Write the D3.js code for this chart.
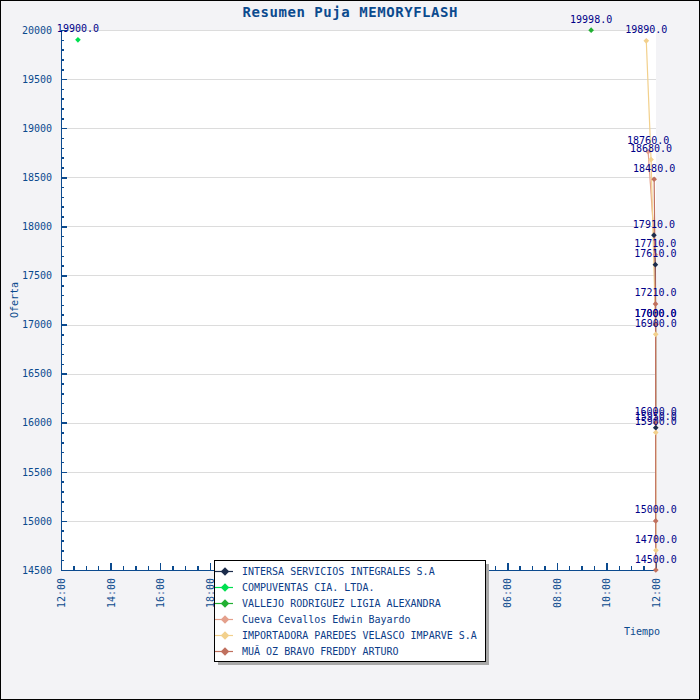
<!DOCTYPE html>
<html><head><meta charset="utf-8">
<script src="https://cdn.jsdelivr.net/npm/d3@7"></script>
<style>html,body{margin:0;padding:0;background:#fff}</style>
</head><body>
<svg id="c" width="700" height="700"></svg>
<script>
// ---- data ----
const seriesNames = [
  "INTERSA SERVICIOS INTEGRALES S.A",
  "COMPUVENTAS CIA. LTDA.",
  "VALLEJO RODRIGUEZ LIGIA ALEXANDRA",
  "Cueva Cevallos Edwin Bayardo",
  "IMPORTADORA PAREDES VELASCO IMPARVE S.A",
  "MUĂ OZ BRAVO FREDDY ARTURO"
];
const intersaTimes = ["2000-01-02T11:55:00","2000-01-02T11:58:30","2000-01-02T11:59:00","2000-01-02T11:59:20"];
const intersaValues = [17910, 17610, 17000, 15950];
const compuventasTimes = ["2000-01-01T12:41:00"];
const compuventasValues = [19900];
const vallejoTimes = ["2000-01-02T09:23:00"];
const vallejoValues = [19998];
const cuevaTimes = ["2000-01-02T11:41:00","2000-01-02T11:58:20"];
const cuevaValues = [18760, 17710];
const importadoraTimes = ["2000-01-02T11:36:30","2000-01-02T11:48:00","2000-01-02T11:59:20","2000-01-02T11:59:25","2000-01-02T11:59:50"];
const importadoraValues = [19890, 18680, 16900, 15900, 14700];
const munozTimes = ["2000-01-02T11:55:30","2000-01-02T11:58:50","2000-01-02T11:59:00","2000-01-02T11:59:10","2000-01-02T11:59:15","2000-01-02T11:59:35"];
const munozValues = [18480, 17210, 17000, 16000, 15000, 14500];
const xDomain = ["2000-01-01T12:00:00","2000-01-02T12:00:00"];
const yDomain = [14500, 20000];
const titleText = "Resumen Puja MEMORYFLASH";
const yLabel = "Oferta";
const xLabel = "Tiempo";

// ---- styles ----
const colors = ["#1c2c4c","#00e050","#22b033","#e4a08c","#f2d08c","#c0705e"];
const axisColor = "#0b4a8e";
const valColor = "#000088";
const FONT = "'DejaVu Sans Mono', 'Liberation Mono', monospace";

const allTimes = [intersaTimes, compuventasTimes, vallejoTimes, cuevaTimes, importadoraTimes, munozTimes];
const allValues = [intersaValues, compuventasValues, vallejoValues, cuevaValues, importadoraValues, munozValues];
const parse = d3.isoParse;
const series = seriesNames.map((n, i) => ({
  name: n, color: colors[i],
  pts: allTimes[i].map((t, j) => ({t: parse(t), v: allValues[i][j]}))
}));

const svg = d3.select("#c");
const W = 700, H = 700;
const L = 61, R = 656, T = 30, B = 570;

svg.append("rect").attr("x",0).attr("y",0).attr("width",W).attr("height",H).attr("fill","#f3f3f6");
svg.append("rect").attr("x",0.5).attr("y",0.5).attr("width",W-1).attr("height",H-1).attr("fill","none").attr("stroke","#000");
svg.append("rect").attr("x",L).attr("y",T).attr("width",R-L).attr("height",B-T).attr("fill","#fff");

const x = d3.scaleTime().domain(xDomain.map(parse)).range([L, R]);
const y = d3.scaleLinear().domain(yDomain).range([B, T]);

// gridlines
svg.append("g").selectAll("line").data(d3.range(15000, 20001, 500)).join("line")
  .attr("x1", L).attr("x2", R).attr("y1", d => Math.round(y(d))+0.5).attr("y2", d => Math.round(y(d))+0.5)
  .attr("stroke","#dcdcdc").attr("shape-rendering","crispEdges");

// y axis
const yMinor = d3.axisRight(y).tickValues(d3.range(14500, 20001, 100)).tickSize(3).tickFormat("");
const gyMinor = svg.append("g").attr("transform",`translate(${L},0)`).call(yMinor);
const yMajor = d3.axisLeft(y).tickValues(d3.range(14500, 20001, 500)).tickSize(0).tickPadding(9).tickFormat(d3.format("d"));
const gy = svg.append("g").attr("transform",`translate(${L},0)`).call(yMajor);
const gyMajTicks = svg.append("g").attr("transform",`translate(${L},0)`).call(d3.axisRight(y).tickValues(d3.range(14500,20001,500)).tickSize(6).tickFormat(""));
[gyMinor, gy, gyMajTicks].forEach(g => {
  g.selectAll("path").attr("stroke", axisColor).attr("stroke-width",1.5);
  g.selectAll("line").attr("stroke", axisColor).attr("stroke-width",1.5);
  g.attr("shape-rendering","crispEdges");
});
gy.selectAll("text").attr("fill", axisColor).attr("font-family", FONT).attr("font-size","10px");

// x axis
const xMinorTicks = d3.timeMinute.every(30).range(parse(xDomain[0]), d3.timeMinute.offset(parse(xDomain[1]),1));
const gxMinor = svg.append("g").attr("transform",`translate(0,${B})`)
  .call(d3.axisTop(x).tickValues(xMinorTicks).tickSize(4).tickFormat(""));
const xMajorTicks = d3.timeHour.every(2).range(parse(xDomain[0]), d3.timeMinute.offset(parse(xDomain[1]),1));
const gxMaj = svg.append("g").attr("transform",`translate(0,${B})`)
  .call(d3.axisTop(x).tickValues(xMajorTicks).tickSize(7).tickFormat(""));
const gx = svg.append("g").attr("transform",`translate(0,${B})`)
  .call(d3.axisBottom(x).tickValues(xMajorTicks).tickSize(0).tickFormat(d3.timeFormat("%H:%M")));
[gxMinor, gxMaj, gx].forEach(g => {
  g.selectAll("path").attr("stroke", axisColor).attr("stroke-width",1.5);
  g.selectAll("line").attr("stroke", axisColor).attr("stroke-width",1.5);
  g.attr("shape-rendering","crispEdges");
});
gx.selectAll("text").attr("fill", axisColor).attr("font-family", FONT).attr("font-size","10px")
  .attr("text-anchor","end").attr("transform","rotate(-90)").attr("x",-8).attr("y",0).attr("dy","0.35em");

// lines
const line = d3.line().x(d => x(d.t)).y(d => y(d.v));
series.forEach(s => {
  if (s.pts.length > 1)
    svg.append("path").datum(s.pts).attr("d", line).attr("fill","none")
      .attr("stroke", s.color).attr("stroke-width",1.2);
});
// markers
const diamond = d3.symbol().type(d3.symbolSquare).size(16);
series.forEach(s => {
  svg.append("g").selectAll("path").data(s.pts).join("path")
    .attr("d", diamond)
    .attr("transform", d => `translate(${x(d.t)},${y(d.v)}) rotate(45)`)
    .attr("fill", s.color);
});
// value labels
series.forEach(s => {
  svg.append("g").selectAll("text").data(s.pts).join("text")
    .attr("x", d => x(d.t)).attr("y", d => y(d.v) - 11).attr("dy","0.35em")
    .attr("text-anchor","middle").attr("font-family", FONT).attr("font-size","10px")
    .attr("fill", valColor).text(d => d.v.toFixed(1));
});

// title & axis labels
svg.append("text").attr("x",350).attr("y",12).attr("dy","0.35em").attr("text-anchor","middle")
  .attr("font-family", FONT).attr("font-size","14px").attr("font-weight","bold")
  .attr("textLength",215).attr("lengthAdjust","spacing")
  .attr("fill", axisColor).text(titleText);
svg.append("text").attr("transform","translate(14,300) rotate(-90)").attr("dy","0.35em").attr("text-anchor","middle")
  .attr("font-family", FONT).attr("font-size","10px").attr("fill", axisColor).text(yLabel);
svg.append("text").attr("x",642).attr("y",631).attr("dy","0.35em").attr("text-anchor","middle")
  .attr("font-family", FONT).attr("font-size","10px").attr("fill", axisColor).text(xLabel);

// legend
const lg = svg.append("g");
lg.append("rect").attr("x",218).attr("y",564).attr("width",271).attr("height",101).attr("fill","#a8a8a8");
lg.append("rect").attr("x",214.5).attr("y",560.5).attr("width",271).attr("height",101).attr("fill","#fff").attr("stroke","#000");
series.forEach((s, i) => {
  const cy = 571 + i * 16;
  lg.append("line").attr("x1",215).attr("x2",233).attr("y1",cy+0.5).attr("y2",cy+0.5).attr("stroke", s.color).attr("stroke-width",1.2);
  lg.append("path").attr("d", d3.symbol().type(d3.symbolSquare).size(36))
    .attr("transform",`translate(225,${cy+0.5}) rotate(45)`).attr("fill", s.color);
  lg.append("text").attr("x",242).attr("y",cy).attr("dy","0.35em")
    .attr("font-family", FONT).attr("font-size","10px").attr("fill","#0b3c88").text(s.name);
});
</script>
</body></html>
